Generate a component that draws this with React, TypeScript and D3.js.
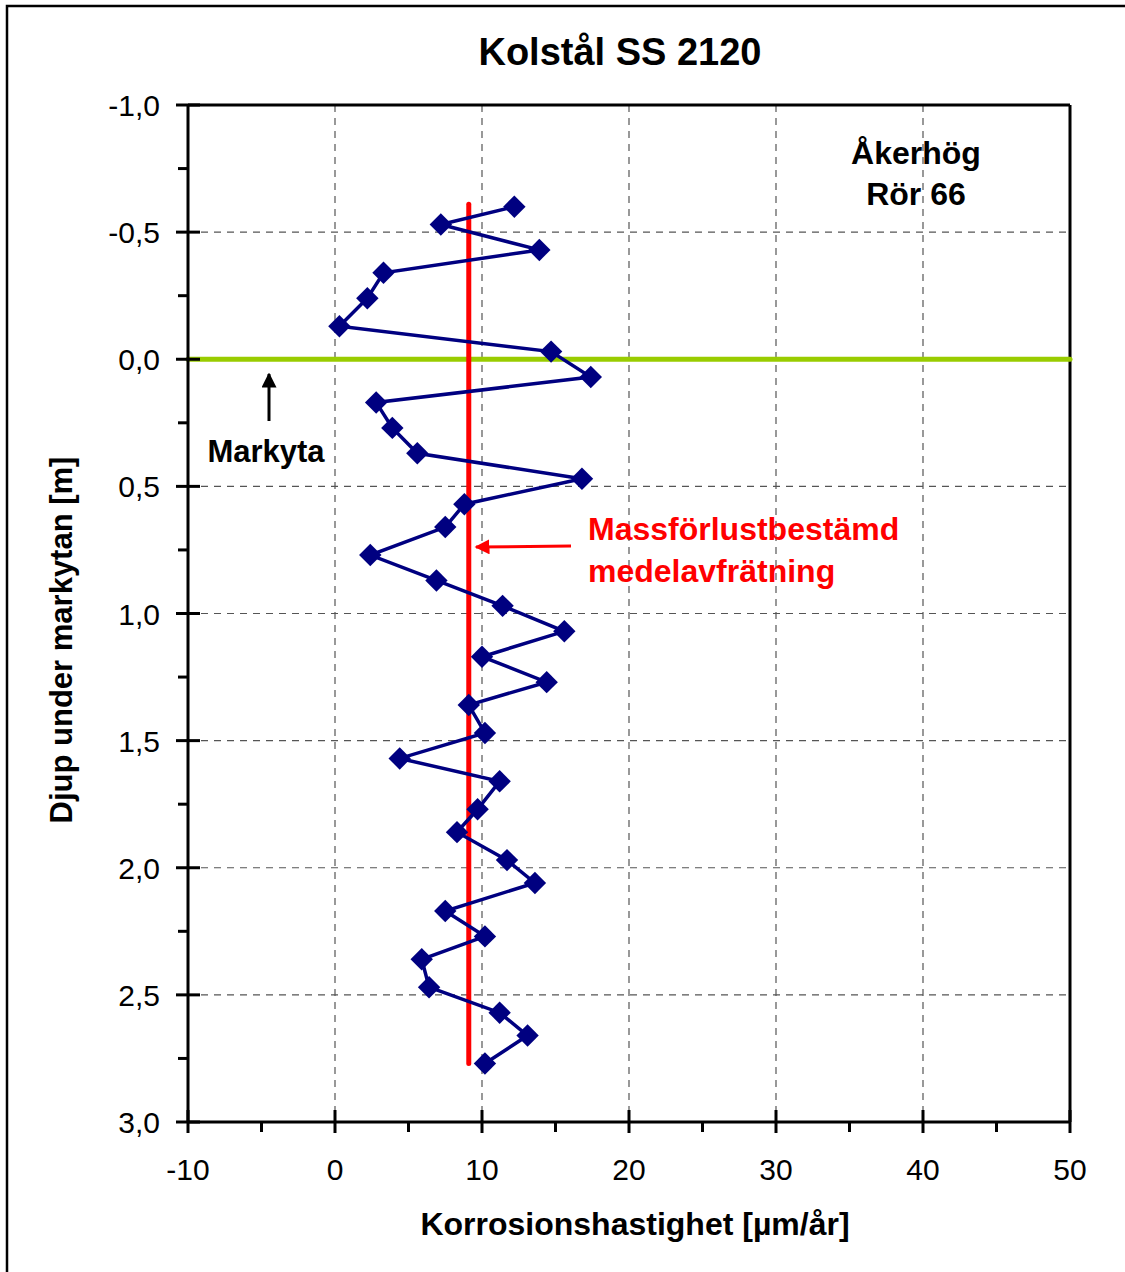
import React from "react";
import * as d3 from "d3";

// Corrosion rate [µm/år] per depth [m]
const rates = [12.2, 7.2, 13.9, 3.3, 2.2, 0.3, 14.7, 17.4, 2.8, 3.9, 5.6, 16.8, 8.8, 7.5, 2.4, 6.9, 11.4, 15.6, 10.0, 14.4, 9.1, 10.2, 4.4, 11.2, 9.7, 8.3, 11.7, 13.6, 7.5, 10.2, 5.9, 6.4, 11.2, 13.1, 10.2];
const depths = [-0.6, -0.53, -0.43, -0.34, -0.24, -0.13, -0.03, 0.07, 0.17, 0.27, 0.37, 0.47, 0.57, 0.66, 0.77, 0.87, 0.97, 1.07, 1.17, 1.27, 1.36, 1.47, 1.57, 1.66, 1.77, 1.86, 1.97, 2.06, 2.17, 2.27, 2.36, 2.47, 2.57, 2.66, 2.77];

// Mean corrosion from mass loss, drawn over this depth range
const meanRate = 9.1;
const meanDepthRange = [-0.61, 2.77];
const groundLevel = 0;

const xTicks = [-10, 0, 10, 20, 30, 40, 50];
const xMinorTicks = [-5, 5, 15, 25, 35, 45];
const yTicks = [-1.0, -0.5, 0.0, 0.5, 1.0, 1.5, 2.0, 2.5, 3.0];
const yMinorTicks = [-0.75, -0.25, 0.25, 0.75, 1.25, 1.75, 2.25, 2.75];

const FONT = "'Liberation Sans', Arial, sans-serif";

export default function App() {
  const left = 188, right = 1070, top = 105, bottom = 1122;
  const x = d3.scaleLinear().domain([-10, 50]).range([left, right]);
  const y = d3.scaleLinear().domain([-1, 3]).range([top, bottom]);

  const points = rates.map((r, i) => [x(r), y(depths[i])] as [number, number]);
  const line = d3.line()(points) || "";
  const diamond = d3.symbol().type(d3.symbolDiamond2).size(320)() || "";
  const fmt = (v: number) => v.toFixed(1).replace(".", ",");

  return (
    <svg width={1125} height={1272} style={{ position: "absolute", left: 0, top: 0, background: "#fff" }} fontFamily={FONT}>
      <defs>
        <marker id="arrBlack" viewBox="0 0 10 10" refX="9" refY="5" markerWidth="5" markerHeight="5" orient="auto" markerUnits="strokeWidth">
          <path d="M0,0 L10,5 L0,10 z" fill="#000" />
        </marker>
        <marker id="arrRed" viewBox="0 0 10 10" refX="9" refY="5" markerWidth="5" markerHeight="5" orient="auto" markerUnits="strokeWidth">
          <path d="M0,0 L10,5 L0,10 z" fill="#ff0000" />
        </marker>
      </defs>
      <rect x={7} y={6} width={1130} height={1280} fill="#fff" stroke="#000" strokeWidth={2.5} />

      <text x={620} y={65} textAnchor="middle" fontSize={38} fontWeight="bold">Kolstål SS 2120</text>

      {/* grid */}
      {xTicks.slice(1, -1).map(t => (
        <line key={"gx" + t} x1={x(t)} x2={x(t)} y1={top} y2={bottom} stroke="#555" strokeWidth={1.2} strokeDasharray="7,6" />
      ))}
      {yTicks.slice(1, -1).map(t => (
        <line key={"gy" + t} x1={left} x2={right} y1={y(t)} y2={y(t)} stroke="#555" strokeWidth={1.2} strokeDasharray="7,6" />
      ))}

      {/* plot frame */}
      <line x1={left} x2={right} y1={top} y2={top} stroke="#000" strokeWidth={3} />
      <line x1={right} x2={right} y1={top} y2={bottom} stroke="#000" strokeWidth={3} />

      {/* ground surface */}
      <line x1={x(-10)} x2={x(50)} y1={y(groundLevel)} y2={y(groundLevel)} stroke="#99cc00" strokeWidth={5} strokeLinecap="round" />

      {/* mean corrosion */}
      <line x1={x(meanRate)} x2={x(meanRate)} y1={y(meanDepthRange[0])} y2={y(meanDepthRange[1])} stroke="#ff0000" strokeWidth={5} strokeLinecap="round" />

      {/* measured series */}
      <path d={line} fill="none" stroke="#000080" strokeWidth={3.5} />
      {points.map((p, i) => (
        <path key={i} d={diamond} transform={`translate(${p[0]},${p[1]})`} fill="#000080" />
      ))}

      {/* axes */}
      <line x1={left} x2={left} y1={top} y2={bottom} stroke="#000" strokeWidth={3} />
      <line x1={left} x2={right} y1={bottom} y2={bottom} stroke="#000" strokeWidth={3} />
      {yTicks.map(t => (
        <g key={"yt" + t}>
          <line x1={left - 12} x2={left + 12} y1={y(t)} y2={y(t)} stroke="#000" strokeWidth={3} />
          <text x={160} y={y(t) + 11} textAnchor="end" fontSize={30}>{fmt(t)}</text>
        </g>
      ))}
      {yMinorTicks.map(t => (
        <line key={"ym" + t} x1={left - 10} x2={left} y1={y(t)} y2={y(t)} stroke="#000" strokeWidth={3} />
      ))}
      {xTicks.map(t => (
        <g key={"xt" + t}>
          <line x1={x(t)} x2={x(t)} y1={bottom - 12} y2={bottom + 11} stroke="#000" strokeWidth={3} />
          <text x={x(t)} y={1180} textAnchor="middle" fontSize={30}>{t}</text>
        </g>
      ))}
      {xMinorTicks.map(t => (
        <line key={"xm" + t} x1={x(t)} x2={x(t)} y1={bottom} y2={bottom + 10} stroke="#000" strokeWidth={3} />
      ))}

      <text x={635} y={1235} textAnchor="middle" fontSize={32} fontWeight="bold">Korrosionshastighet [µm/år]</text>
      <text transform="translate(72,640) rotate(-90)" textAnchor="middle" fontSize={31} fontWeight="bold">Djup under markytan [m]</text>

      {/* annotations */}
      <text x={916} y={164} textAnchor="middle" fontSize={32} fontWeight="bold">Åkerhög</text>
      <text x={916} y={205} textAnchor="middle" fontSize={32} fontWeight="bold">Rör 66</text>

      <line x1={269} x2={269} y1={421} y2={374} stroke="#000" strokeWidth={3} markerEnd="url(#arrBlack)" />
      <text x={266} y={462} textAnchor="middle" fontSize={31} fontWeight="bold">Markyta</text>

      <line x1={571} x2={476} y1={546} y2={547} stroke="#ff0000" strokeWidth={3} markerEnd="url(#arrRed)" />
      <text x={588} y={540} fontSize={32} fontWeight="bold" fill="#ff0000">Massförlustbestämd</text>
      <text x={588} y={582} fontSize={32} fontWeight="bold" fill="#ff0000">medelavfrätning</text>
    </svg>
  );
}
